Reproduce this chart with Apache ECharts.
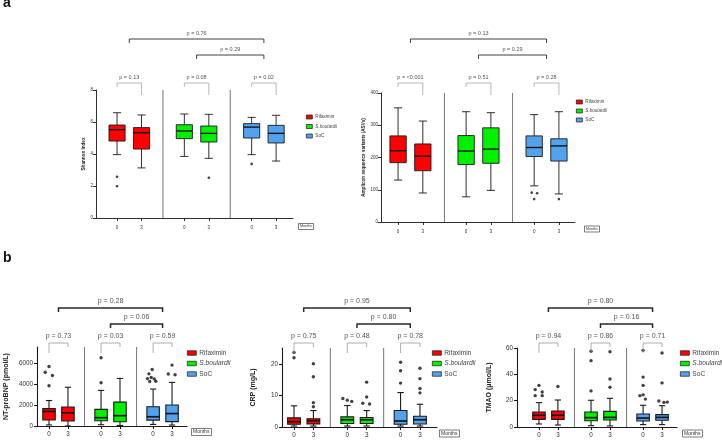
<!DOCTYPE html>
<html><head><meta charset="utf-8">
<script src="https://cdn.jsdelivr.net/npm/echarts@6/dist/echarts.min.js"></script>
<style>html,body{margin:0;padding:0;background:#fff}#c{width:722px;height:440px}</style>
</head><body><div id="c"></div>
<script>
// ---------------- data ----------------
const groups = ['Rifaximin', 'S.boulardii', 'SoC'];
const months = ['0', '3', '0', '3', '0', '3'];

// five-number summaries [lowWhisker, Q1, median, Q3, highWhisker] per box (Rif 0, Rif 3, Sb 0, Sb 3, SoC 0, SoC 3)
const shannonBox = [
  [3.96, 4.81, 5.52, 5.81, 6.58],
  [3.13, 4.31, 5.33, 5.65, 6.44],
  [3.85, 4.96, 5.44, 5.83, 6.50],
  [3.73, 4.75, 5.29, 5.75, 6.48],
  [3.96, 5.00, 5.68, 5.90, 6.29],
  [3.56, 4.69, 5.29, 5.79, 6.42]
];
// outliers [boxIndex, value, horizontal jitter]
const shannonOut = [[0, 2.58, 0], [0, 1.98, 0], [3, 2.52, 0], [4, 3.38, 0]];
const shannonP = ['p = 0.13', 'p = 0.08', 'p = 0.02', 'p = 0.29', 'p = 0.76'];
const shannonTicks = [0, 2, 4, 6, 8];

const asvBox = [
  [130, 184, 221, 267, 354],
  [90, 159, 204, 242, 313],
  [78, 178, 220, 268, 342],
  [98, 182, 226, 292, 339],
  [112, 203, 231, 267, 333],
  [87, 189, 236, 258, 342]
];
const asvOut = [[4, 91, -0.1], [4, 89, 0.12], [4, 71, 0], [5, 71, 0]];
const asvP = ['p = <0.001', 'p = 0.51', 'p = 0.28', 'p = 0.29', 'p = 0.13'];
const asvTicks = [0, 100, 200, 300, 400];

const ntBox = [
  [100, 570, 1380, 1650, 2420],
  [0, 480, 1250, 1800, 3680],
  [120, 500, 790, 1580, 3380],
  [50, 410, 980, 2270, 4520],
  [150, 560, 880, 1830, 3510],
  [90, 420, 1180, 1990, 4140]
];
const ntOut = [
  [0, 5650, 0], [0, 5100, -0.2], [0, 4800, 0.18], [0, 3820, 0],
  [2, 6480, 0], [2, 4110, 0],
  [4, 5360, -0.05], [4, 4950, -0.22], [4, 4600, -0.1], [4, 4500, -0.3], [4, 4470, 0.06], [4, 4230, -0.18], [4, 4250, 0.14],
  [5, 5780, 0], [5, 4930, -0.2], [5, 4870, 0.16]
];
const ntP = ['p = 0.73', 'p = 0.03', 'p = 0.59', 'p = 0.06', 'p = 0.28'];
const ntTicks = [0, 2000, 4000, 6000];

const crpBox = [
  [0.3, 0.85, 1.7, 2.9, 6.7],
  [0.3, 1.0, 2.0, 2.6, 5.2],
  [0.3, 1.1, 2.3, 3.2, 6.8],
  [0.3, 1.1, 2.3, 3.0, 5.2],
  [0.3, 0.85, 1.9, 5.2, 10.9],
  [0.3, 0.95, 2.3, 3.4, 7.2]
];
const crpOut = [
  [0, 23.6, 0], [0, 21.9, 0],
  [1, 20.0, 0], [1, 15.9, 0], [1, 7.7, 0], [1, 6.4, 0],
  [2, 9.0, -0.23], [2, 8.5, 0], [2, 8.1, 0.23],
  [3, 14.2, 0], [3, 9.5, 0], [3, 7.5, -0.2], [3, 7.3, 0.15],
  [4, 20.5, 0], [4, 17.8, 0], [4, 13.9, 0],
  [5, 18.6, 0], [5, 15.3, 0], [5, 12.2, 0], [5, 10.8, 0]
];
const crpP = ['p = 0.75', 'p = 0.48', 'p = 0.78', 'p = 0.80', 'p = 0.95'];
const crpTicks = [0, 10, 20];

const tmaoBox = [
  [2.3, 5.8, 8.9, 11.4, 18.5],
  [1.5, 5.8, 8.9, 12.2, 20.5],
  [1.0, 4.8, 7.1, 11.4, 20.3],
  [0.8, 5.3, 7.3, 11.9, 21.8],
  [1.8, 4.6, 6.8, 9.9, 16.5],
  [1.8, 5.1, 7.3, 9.4, 16.2]
];
const tmaoOut = [
  [0, 31.6, 0], [0, 28.4, -0.2], [0, 26.6, 0.17], [0, 23.8, -0.2], [0, 23.8, 0.17],
  [1, 30.8, 0],
  [2, 57.5, 0], [2, 50.4, 0], [2, 27.4, 0],
  [3, 57.2, 0], [3, 36.5, 0], [3, 30.2, 0],
  [4, 58.2, 0], [4, 37.9, 0], [4, 31.6, 0], [4, 24.4, 0], [4, 23.8, -0.17], [4, 21.2, 0.12],
  [5, 56.2, 0], [5, 33.5, 0], [5, 19.8, -0.17], [5, 18.7, 0.1], [5, 18.9, 0.28]
];
const tmaoP = ['p = 0.94', 'p = 0.86', 'p = 0.71', 'p = 0.16', 'p = 0.80'];
const tmaoTicks = [0, 20, 40, 60];

// ---------------- layout ----------------
const FONT = '"Liberation Sans", Arial, Helvetica, sans-serif';
const colors = ['#ff0000', '#00f000', '#52a2ee'];
const catPos = [1, 2, 3.75, 4.75, 6.5, 7.5];
const groupCenters = [1.5, 4.25, 7.0];
const dividerPos = [2.875, 5.625];

const smallFs = { tick: 4.5, name: 4.6, p: 5.5, leg: 4.6, months: 3.6 };
const bigFs = { tick: 6.3, name: 7, p: 7, leg: 6.6, months: 5 };

const panels = [
  { grid: { left: 96, top: 90, width: 197, height: 128 }, xMin: 0.14, xMax: 8.19, yMax: 8,
    ticks: shannonTicks, name: 'Shannon Index', nameGap: 6, box: shannonBox, out: shannonOut, p: shannonP,
    fs: smallFs, xlm: 7, ylm: 3, lw: 0.9, sym: 2.6,
    br: { w: -7, wl: 4, wr: 12, c1: -35, c2: -51, cl: 4, t: 5.5, ww: 0.7, cw: 0.9 },
    legend: { left: 306, top: 114.5, iw: 6, ih: 4, lh: 5, gap: 4.5 }, mo: { left: 298, top: 223 } },
  { grid: { left: 381, top: 93, width: 194, height: 129 }, xMin: 0.31, xMax: 8.15, yMax: 400,
    ticks: asvTicks, name: 'Amplicon sequence variants (ASVs)', nameGap: 14, box: asvBox, out: asvOut, p: asvP,
    fs: smallFs, xlm: 7, ylm: 3, lw: 0.9, sym: 2.6,
    br: { w: -10, wl: 4, wr: 12, c1: -38, c2: -54, cl: 4, t: 5.5, ww: 0.7, cw: 0.9 },
    legend: { left: 576, top: 99.5, iw: 6, ih: 4, lh: 5, gap: 4 }, mo: { left: 584, top: 225.5 } },
  { grid: { left: 37, top: 347, width: 150, height: 79 }, xMin: 0.365, xMax: 8.29, yMax: 7500,
    ticks: ntTicks, name: 'NT-proBNP (pmol/L)', nameGap: 27, box: ntBox, out: ntOut, p: ntP,
    fs: bigFs, xlm: 5, ylm: 4, lw: 1.1, sym: 3.4,
    br: { w: -4, wl: 10, wr: 4, c1: -23, c2: -39, cl: 4, t: 7, ww: 0.8, cw: 1.5 },
    legend: { left: 187, top: 349.5, iw: 9, ih: 4.5, lh: 7, gap: 3.5 }, mo: { left: 191, top: 428 } },
  { grid: { left: 282, top: 348, width: 155, height: 79 }, xMin: 0.38, xMax: 8.38, yMax: 25,
    ticks: crpTicks, name: 'CRP (mg/L)', nameGap: 25, box: crpBox, out: crpOut, p: crpP,
    fs: bigFs, xlm: 5, ylm: 4, lw: 1.1, sym: 3.4,
    br: { w: -5, wl: 10, wr: 4, c1: -24, c2: -40, cl: 4, t: 7, ww: 0.8, cw: 1.5 },
    legend: { left: 432, top: 349.5, iw: 9, ih: 4.5, lh: 7, gap: 3.5 }, mo: { left: 439, top: 429.5 } },
  { grid: { left: 517, top: 348, width: 160, height: 79 }, xMin: -0.16, xMax: 8.29, yMax: 60,
    ticks: tmaoTicks, name: 'TMAO (\u03bcmol/L)', nameGap: 24, box: tmaoBox, out: tmaoOut, p: tmaoP,
    fs: bigFs, xlm: 5, ylm: 4, lw: 1.1, sym: 3.4,
    br: { w: -5, wl: 10, wr: 4, c1: -24, c2: -40, cl: 4, t: 7, ww: 0.8, cw: 1.5 },
    legend: { left: 680, top: 349.5, iw: 9, ih: 4.5, lh: 7, gap: 3.5 }, mo: { left: 682, top: 429.5 } }
];

// ---------------- build option ----------------
const grids = [], xAxes = [], yAxes = [], series = [], legends = [], titles = [];

titles.push({ text: 'a', left: 3, top: -4, padding: 0, textStyle: { fontSize: 14, fontWeight: 'bold', color: '#111', fontFamily: FONT } });
titles.push({ text: 'b', left: 3, top: 251, padding: 0, textStyle: { fontSize: 14, fontWeight: 'bold', color: '#111', fontFamily: FONT } });

panels.forEach((P, i) => {
  grids.push(Object.assign({ containLabel: false }, P.grid));
  const axisLine = { show: true, onZero: false, lineStyle: { color: '#1a1a1a', width: P.lw } };
  xAxes.push({
    type: 'value', gridIndex: i, min: P.xMin, max: P.xMax, splitLine: { show: false },
    axisLine: axisLine,
    axisTick: { show: true, customValues: catPos, length: 3, lineStyle: { color: '#1a1a1a', width: P.lw } },
    axisLabel: {
      customValues: catPos, margin: P.xlm, fontSize: P.fs.tick, color: '#333', fontFamily: FONT,
      formatter: v => { const k = catPos.findIndex(c => Math.abs(c - v) < 1e-6); return k >= 0 ? months[k] : ''; }
    }
  });
  yAxes.push({
    type: 'value', gridIndex: i, min: 0, max: P.yMax, splitLine: { show: false },
    axisLine: axisLine,
    axisTick: { show: true, customValues: P.ticks, length: 3, lineStyle: { color: '#1a1a1a', width: P.lw } },
    axisLabel: { customValues: P.ticks, margin: P.ylm, fontSize: P.fs.tick, color: '#333', fontFamily: FONT, formatter: v => String(v) },
    name: P.name, nameLocation: 'middle', nameGap: P.nameGap, nameRotate: 90,
    nameTextStyle: { fontSize: P.fs.name, fontWeight: 'bold', color: '#222', fontFamily: FONT }
  });

  // group dividers
  series.push({
    type: 'custom', xAxisIndex: i, yAxisIndex: i, silent: true, z: 1,
    data: dividerPos.map(d => [d]),
    renderItem: (params, api) => {
      const p0 = api.coord([api.value(0), 0]);
      const p1 = api.coord([api.value(0), P.yMax]);
      return { type: 'line', shape: { x1: p0[0], y1: p0[1], x2: p1[0], y2: p1[1] }, style: { stroke: '#808080', lineWidth: 1.1 } };
    }
  });

  // boxes
  series.push({
    type: 'custom', xAxisIndex: i, yAxisIndex: i, z: 3,
    data: P.box.map((b, k) => [catPos[k], b[0], b[1], b[2], b[3], b[4], Math.floor(k / 2)]),
    renderItem: (params, api) => {
      const x = api.value(0);
      const bw = api.size([1, 0])[0] * 0.66;
      const pLo = api.coord([x, api.value(1)]), pQ1 = api.coord([x, api.value(2)]), pMed = api.coord([x, api.value(3)]);
      const pQ3 = api.coord([x, api.value(4)]), pHi = api.coord([x, api.value(5)]);
      const cx = pLo[0], col = colors[api.value(6)], cw = bw / 4;
      const st = { stroke: '#1a1a1a', lineWidth: P.lw };
      return { type: 'group', children: [
        { type: 'line', shape: { x1: cx, y1: pHi[1], x2: cx, y2: pQ3[1] }, style: st },
        { type: 'line', shape: { x1: cx, y1: pQ1[1], x2: cx, y2: pLo[1] }, style: st },
        { type: 'line', shape: { x1: cx - cw, y1: pHi[1], x2: cx + cw, y2: pHi[1] }, style: st },
        { type: 'line', shape: { x1: cx - cw, y1: pLo[1], x2: cx + cw, y2: pLo[1] }, style: st },
        { type: 'rect', shape: { x: cx - bw / 2, y: pQ3[1], width: bw, height: pQ1[1] - pQ3[1] }, style: { fill: col, stroke: '#1a1a1a', lineWidth: P.lw } },
        { type: 'line', shape: { x1: cx - bw / 2, y1: pMed[1], x2: cx + bw / 2, y2: pMed[1] }, style: { stroke: '#111', lineWidth: P.lw * 1.5 } }
      ] };
    }
  });

  // outliers
  series.push({
    type: 'scatter', xAxisIndex: i, yAxisIndex: i, z: 4, symbol: 'circle', symbolSize: P.sym,
    itemStyle: { color: '#111' }, silent: true,
    data: P.out.map(o => [catPos[o[0]] + o[2], o[1]])
  });

  // p-value brackets
  const brData = [
    [catPos[0], catPos[1], 0], [catPos[2], catPos[3], 0], [catPos[4], catPos[5], 0],
    [groupCenters[1], groupCenters[2], 1], [groupCenters[0], groupCenters[2], 2]
  ];
  series.push({
    type: 'custom', xAxisIndex: i, yAxisIndex: i, silent: true, z: 5, clip: false,
    data: brData,
    renderItem: (params, api) => {
      const B = P.br, kind = api.value(2);
      const pa = api.coord([api.value(0), P.yMax]), pb = api.coord([api.value(1), P.yMax]);
      const top = pa[1], a = pa[0], b = pb[0];
      let y, l1, l2, col, lw;
      if (kind === 0) { y = top + B.w; l1 = B.wl; l2 = B.wr; col = '#9a9a9a'; lw = B.ww; }
      else { y = top + (kind === 1 ? B.c1 : B.c2); l1 = B.cl; l2 = B.cl; col = '#2a2a2a'; lw = B.cw; }
      return { type: 'group', children: [
        { type: 'polyline', shape: { points: [[a, y + l1], [a, y], [b, y], [b, y + l2]] }, style: { stroke: col, lineWidth: lw, fill: null } },
        { type: 'text', style: { text: P.p[params.dataIndex], x: (a + b) / 2, y: y - B.t, align: 'center', verticalAlign: 'middle',
          fontSize: P.fs.p, fontFamily: FONT, fill: '#555' } }
      ] };
    }
  });

  legends.push({
    orient: 'vertical', left: P.legend.left, top: P.legend.top, padding: 0,
    itemWidth: P.legend.iw, itemHeight: P.legend.ih, itemGap: P.legend.gap, icon: 'rect',
    selectedMode: false, data: groups,
    itemStyle: { borderColor: '#1a1a1a', borderWidth: 0.7 },
    textStyle: { fontSize: P.fs.leg, lineHeight: P.legend.lh, color: '#444', fontFamily: FONT, padding: [0, 0, 0, -2],
      rich: { i: { fontStyle: 'italic', fontSize: P.fs.leg, lineHeight: P.legend.lh, color: '#444', fontFamily: FONT } } },
    formatter: n => n === 'S.boulardii' ? '{i|' + n + '}' : n
  });

  titles.push({
    text: 'Months', left: P.mo.left, top: P.mo.top, padding: [1, 2], borderColor: '#444', borderWidth: 0.7,
    textStyle: { fontSize: P.fs.months, fontWeight: 'normal', color: '#333', fontFamily: FONT, lineHeight: P.fs.months + 1 }
  });
});

// legend entries (colour keys)
groups.forEach((g, k) => {
  series.push({ type: 'bar', name: g, xAxisIndex: 0, yAxisIndex: 0, data: [],
    itemStyle: { color: colors[k], borderColor: '#1a1a1a', borderWidth: 0.7 } });
});

const chart = echarts.init(document.getElementById('c'), null, { renderer: 'canvas' });
chart.setOption({
  animation: false,
  backgroundColor: '#fff',
  title: titles,
  grid: grids, xAxis: xAxes, yAxis: yAxes, legend: legends, series: series
});
</script></body></html>
